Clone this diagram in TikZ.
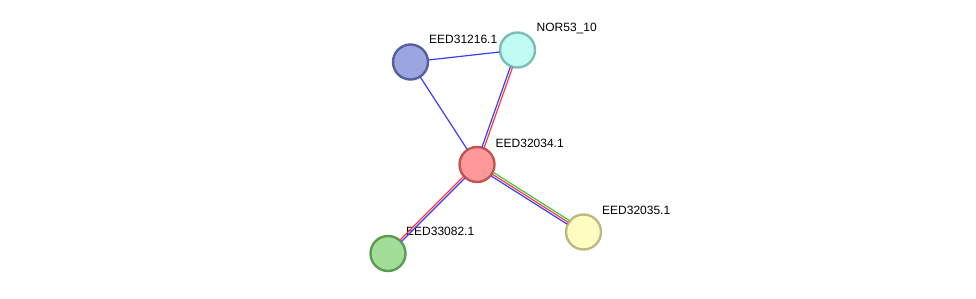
\documentclass[tikz,border=0pt]{standalone}
\usepackage{fontspec}
\setmainfont{Liberation Sans}
\usetikzlibrary{calc}
\definecolor{eblue}{HTML}{3B3BFF}
\definecolor{ered}{HTML}{FF3B3B}
\definecolor{egreen}{HTML}{3CC83C}
\definecolor{pblue}{HTML}{9BA6E0}
\definecolor{pbluedark}{HTML}{5460A0}
\definecolor{pcyan}{HTML}{C0FCF4}
\definecolor{pcyandark}{HTML}{7CBDB4}
\definecolor{pred}{HTML}{FF9898}
\definecolor{preddark}{HTML}{C05454}
\definecolor{pyellow}{HTML}{FFFCC2}
\definecolor{pyellowdark}{HTML}{BCBA80}
\definecolor{pgreen}{HTML}{A2DE98}
\definecolor{pgreendark}{HTML}{5C9C52}
\tikzset{protein/.style = {shape = circle, draw, line width = 2.4pt, minimum size = 35pt, inner sep = 0pt}}
\tikzset{edge/.style = {-, line width = 1.2pt, shorten > = 18pt, shorten < = 18pt}}
\tikzset{lbl/.style = {anchor = base west, inner sep = 0pt, font = \fontsize{12}{14}\selectfont}}
\newcommand{\offedge}[4]{\draw[edge, #1] ($(#2)!#4!90:(#3)$) -- ($(#3)!#4!-90:(#2)$);}

\begin{document}
\begin{tikzpicture}[x = 1pt, y = -1pt]
			\useasboundingbox (0, 0) rectangle (976, 299);

			\node[protein, draw = pbluedark, fill = pblue] (a) at (410.5, 62) {};
			\node[protein, draw = pcyandark, fill = pcyan] (b) at (517.5, 50) {};
			\node[protein, draw = preddark, fill = pred] (c) at (477, 164.5) {};
			\node[protein, draw = pyellowdark, fill = pyellow] (d) at (583.5, 232) {};
			\node[protein, draw = pgreendark, fill = pgreen] (e) at (388, 253.5) {};

			\node[lbl] (la) at ([shift = {(18.5, -18)}]a) {EED31216.1};
			\node[lbl] (lb) at ([shift = {(19, -18)}]b) {NOR53\_10};
			\node[lbl] (lc) at ([shift = {(18.5, -17)}]c) {EED32034.1};
			\node[lbl] (ld) at ([shift = {(18.5, -18)}]d) {EED32035.1};
			\node[lbl] (le) at ([shift = {(18, -18)}]e) {EED33082.1};

			\draw[edge, eblue] (a.center) -- (b.center);
			\draw[edge, eblue] (a.center) -- (c.center);
			\offedge{eblue}{c}{b}{1.1pt}
			\offedge{ered}{c}{b}{-1.1pt}
			\offedge{eblue}{c}{e}{1.1pt}
			\offedge{ered}{c}{e}{-1.1pt}
			\offedge{egreen}{c}{d}{2.1pt}
			\offedge{ered}{c}{d}{0pt}
			\offedge{eblue}{c}{d}{-2.1pt}
		\end{tikzpicture}
\end{document}
